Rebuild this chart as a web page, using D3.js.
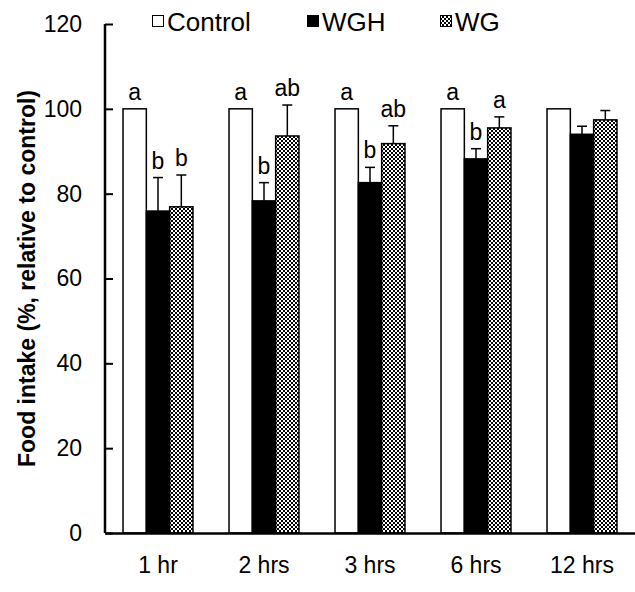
<!DOCTYPE html>
<html>
<head>
<meta charset="utf-8">
<script src="https://cdn.jsdelivr.net/npm/d3@7"></script>
<style>
  body { margin: 0; background: #fff; }
  svg { font-family: Arial, 'Liberation Sans', sans-serif; }
</style>
</head>
<body>
<svg id="chart" width="635" height="592"></svg>
<script>
const categories = ['1 hr', '2 hrs', '3 hrs', '6 hrs', '12 hrs'];
const seriesNames = ['Control', 'WGH', 'WG'];
const controlValues = [100, 100, 100, 100, 100];
const wghValues = [75.9, 78.3, 82.6, 88.2, 94.0];
const wgValues = [76.9, 93.6, 91.8, 95.5, 97.4];
const wghErrors = [7.9, 4.3, 3.6, 2.4, 1.9];
const wgErrors = [7.5, 7.3, 4.2, 2.6, 2.2];
const controlLetters = ['a', 'a', 'a', 'a', ''];
const wghLetters = ['b', 'b', 'b', 'b', ''];
const wgLetters = ['b', 'ab', 'ab', 'a', ''];
const yTicks = [0, 20, 40, 60, 80, 100, 120];

const margin = { top: 24, right: 0, bottom: 59, left: 105 };
const width = 635 - margin.left - margin.right;
const height = 592 - margin.top - margin.bottom;
const fontSize = 23;

const svgEl = d3.select('#chart');

// checker pattern for WG
const defs = svgEl.append('defs');
const pat = defs.append('pattern')
  .attr('id', 'checker')
  .attr('width', 4)
  .attr('height', 4)
  .attr('patternUnits', 'userSpaceOnUse');
pat.append('rect').attr('width', 4).attr('height', 4).attr('fill', '#000');
pat.append('rect').attr('x', 0).attr('y', 0).attr('width', 2).attr('height', 2).attr('fill', '#fff');
pat.append('rect').attr('x', 2).attr('y', 2).attr('width', 2).attr('height', 2).attr('fill', '#fff');

const fills = { Control: '#fff', WGH: '#000', WG: 'url(#checker)' };

const svg = svgEl.append('g')
  .attr('transform', `translate(${margin.left},${margin.top})`);

const x = d3.scaleBand().domain(categories).range([0, width]);
const xSub = d3.scaleBand().domain(seriesNames).range([x.bandwidth() * 0.17, x.bandwidth() * 0.83]);
const y = d3.scaleLinear().domain([0, 120]).range([height, 0]);

const data = categories.map((c, i) => ({
  label: c,
  items: [
    { key: 'Control', value: controlValues[i], err: 0, letter: controlLetters[i] },
    { key: 'WGH', value: wghValues[i], err: wghErrors[i], letter: wghLetters[i] },
    { key: 'WG', value: wgValues[i], err: wgErrors[i], letter: wgLetters[i] },
  ],
}));

const groups = svg.append('g')
  .selectAll('g')
  .data(data)
  .join('g')
  .attr('transform', (d) => `translate(${x(d.label)},0)`);

// error bars (upper only)
groups.selectAll('g.err')
  .data((d) => d.items.filter((it) => it.err > 0))
  .join('g')
  .attr('class', 'err')
  .each(function (d) {
    const g = d3.select(this);
    const cx = xSub(d.key) + xSub.bandwidth() / 2;
    g.append('line')
      .attr('x1', cx).attr('x2', cx)
      .attr('y1', y(d.value)).attr('y2', y(d.value + d.err))
      .attr('stroke', '#000').attr('stroke-width', 1.5);
    g.append('line')
      .attr('x1', cx - 5).attr('x2', cx + 5)
      .attr('y1', y(d.value + d.err)).attr('y2', y(d.value + d.err))
      .attr('stroke', '#000').attr('stroke-width', 1.5);
  });

groups.selectAll('rect')
  .data((d) => d.items)
  .join('rect')
  .attr('x', (d) => xSub(d.key))
  .attr('y', (d) => y(d.value))
  .attr('width', xSub.bandwidth())
  .attr('height', (d) => height - y(d.value))
  .attr('fill', (d) => fills[d.key])
  .attr('stroke', '#000')
  .attr('stroke-width', 1.5);

groups.selectAll('text.letter')
  .data((d) => d.items.filter((it) => it.letter))
  .join('text')
  .attr('class', 'letter')
  .attr('x', (d) => xSub(d.key) + xSub.bandwidth() / 2)
  .attr('y', (d) => y(d.value + d.err) - 9)
  .attr('text-anchor', 'middle')
  .attr('font-size', fontSize)
  .text((d) => d.letter);

// axes
const yAxis = svg.append('g')
  .call(d3.axisLeft(y).tickValues(yTicks).tickSize(-8).tickPadding(23));
yAxis.select('.domain').attr('stroke-width', 2.5).attr('d', `M0,${height}V0`);
yAxis.selectAll('.tick line').attr('stroke-width', 2);
yAxis.selectAll('text').attr('font-size', fontSize).attr('font-family', 'Arial, Liberation Sans, sans-serif').attr('fill', '#000');

const xAxis = svg.append('g')
  .attr('transform', `translate(0,${height})`)
  .call(d3.axisBottom(x).tickSize(0).tickPadding(24));
xAxis.select('.domain').attr('stroke-width', 2.5);
xAxis.selectAll('text').attr('font-size', fontSize).attr('font-family', 'Arial, Liberation Sans, sans-serif').attr('fill', '#000');

// y title
svgEl.append('text')
  .attr('transform', `translate(35,${margin.top + height / 2}) rotate(-90)`)
  .attr('text-anchor', 'middle')
  .attr('font-size', fontSize)
  .attr('font-weight', 'bold')
  .text('Food intake (%, relative to control)');

// legend
const legendX = [152, 307, 440];
const legend = svgEl.append('g')
  .selectAll('g')
  .data(seriesNames)
  .join('g')
  .attr('transform', (d, i) => `translate(${legendX[i]},0)`);
legend.append('rect')
  .attr('x', 0.5).attr('y', 15.5)
  .attr('width', 11).attr('height', 11)
  .attr('fill', (d) => fills[d])
  .attr('stroke', '#000').attr('stroke-width', 1);
legend.append('text')
  .attr('x', 15).attr('y', 31)
  .attr('font-size', 26)
  .text((d) => d);
</script>
</body>
</html>
